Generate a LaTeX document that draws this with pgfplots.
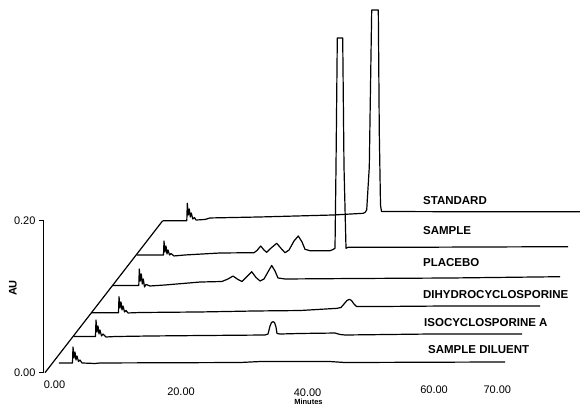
\documentclass[border=0pt]{standalone}
\usepackage{pgfplots}
\pgfplotsset{compat=1.18}
\usepackage{fontspec}
\setmainfont{Liberation Sans}
\begin{document}
\begin{tikzpicture}
\begin{axis}[
  scale only axis, width=536pt, height=372.7pt,
  xmin=-1.660, xmax=83.071, ymin=0, ymax=0.4904,
  axis lines=left, axis line style={draw=none},
  clip mode=individual,
  xtick={0,20,40,60,70},
  xticklabels={\raisebox{5pt}{0.00},\raisebox{-2pt}{20.00},\raisebox{-3pt}{40.00},60.00,70.00},
  xtick style={draw=none},
  xticklabel style={anchor=base, yshift=-16pt},
  ytick={0,0.2}, yticklabels={0.00,0.20},
  tick align=outside, major tick length=5pt,
  ytick style={line width=1pt, black},
  ticklabel style={font=\fontsize{11}{13}\selectfont},
  tr/.style={black, line width=1.2pt, mark=none, solid, line join=round},
]
\coordinate (BL) at (rel axis cs:0,0);
\coordinate (TR) at (rel axis cs:1,1);
\draw[line width=1pt] (axis cs:-1.660,0) -- (axis cs:-1.660,0.2);
% perspective edge
\addplot[tr] coordinates {(-1.502,0) (17.104,0.2)};
% SAMPLE DILUENT
\addplot[tr] coordinates {(0.711,0.0128) (2.845,0.0128) (2.924,0.0338) (3.083,0.0193) (3.241,0.0272) (3.399,0.0167) (3.557,0.0220) (3.794,0.0147) (4.031,0.0167) (4.347,0.0128) (6.402,0.0121) (7.193,0.0128) (29.324,0.0134) (32.485,0.0147) (43.551,0.0147) (45.922,0.0134) (71.215,0.0141)};
% ISOCYCLOSPORINE A
\addplot[tr] coordinates {(3.083,0.0476) (6.481,0.0476) (6.560,0.0693) (6.718,0.0536) (6.876,0.0614) (7.035,0.0509) (7.193,0.0562) (7.430,0.0483) (7.667,0.0509) (8.141,0.0470) (9.564,0.0476) (15.097,0.0483) (23.001,0.0489) (33.276,0.0496) (33.750,0.0509) (34.067,0.0614) (34.304,0.0661) (34.541,0.0671) (34.778,0.0661) (35.015,0.0601) (35.173,0.0516) (35.647,0.0509) (38.809,0.0516) (44.342,0.0522) (45.132,0.0503) (45.922,0.0496) (59.359,0.0509) (73.902,0.0509)};
% DIHYDROCYCLOSPORINE
\addplot[tr] coordinates {(5.770,0.0789) (10.117,0.0789) (10.196,0.1000) (10.354,0.0851) (10.512,0.0930) (10.670,0.0825) (10.828,0.0878) (11.066,0.0799) (11.303,0.0818) (11.619,0.0786) (13.516,0.0792) (23.001,0.0799) (31.695,0.0812) (38.809,0.0818) (44.658,0.0847) (45.290,0.0858) (45.764,0.0904) (46.239,0.0950) (46.602,0.0966) (46.950,0.0950) (47.346,0.0904) (47.741,0.0871) (51.455,0.0871) (62.521,0.0878) (76.748,0.0878)};
% PLACEBO
\addplot[tr] coordinates {(9.248,0.1147) (13.326,0.1147) (13.405,0.1364) (13.563,0.1207) (13.721,0.1299) (13.879,0.1167) (14.037,0.1233) (14.227,0.1128) (14.464,0.1161) (15.097,0.1141) (17.468,0.1154) (23.001,0.1193) (26.478,0.1200) (27.427,0.1233) (28.217,0.1272) (29.008,0.1226) (29.640,0.1200) (30.272,0.1253) (31.173,0.1329) (31.853,0.1253) (32.485,0.1207) (33.118,0.1233) (33.829,0.1338) (34.335,0.1411) (34.857,0.1338) (35.331,0.1246) (36.438,0.1233) (46.713,0.1239) (62.521,0.1246) (79.910,0.1263)};
% SAMPLE
\addplot[tr] coordinates {(13.042,0.1549) (17.231,0.1549) (17.310,0.1733) (17.468,0.1588) (17.626,0.1667) (17.784,0.1562) (17.942,0.1614) (18.179,0.1549) (18.416,0.1568) (18.890,0.1536) (20.629,0.1549) (26.162,0.1575) (31.537,0.1579) (32.011,0.1608) (32.596,0.1667) (33.118,0.1614) (33.545,0.1584) (34.067,0.1628) (35.126,0.1703) (35.964,0.1621) (36.438,0.1579) (37.070,0.1614) (37.861,0.1733) (38.540,0.1799) (39.125,0.1720) (39.600,0.1624) (40.390,0.1605) (43.551,0.1605) (44.026,0.1621) (44.342,0.1637) (44.500,0.2711) (44.705,0.4404) (45.559,0.4404) (45.764,0.2711) (46.081,0.1637) (46.397,0.1650) (54.617,0.1650) (67.263,0.1654) (81.175,0.1658)};
% STANDARD
\addplot[tr] coordinates {(17.152,0.2000) (20.914,0.2000) (20.993,0.2229) (21.151,0.2075) (21.309,0.2154) (21.467,0.2049) (21.625,0.2101) (21.863,0.2022) (22.131,0.2042) (22.368,0.2009) (23.791,0.2016) (24.581,0.2036) (32.485,0.2049) (44.026,0.2075) (48.768,0.2097) (49.084,0.2108) (49.353,0.2141) (49.764,0.2711) (49.922,0.3588) (50.143,0.4772) (51.187,0.4772) (51.344,0.3154) (51.534,0.2207) (51.692,0.2121) (64.101,0.2118) (83.862,0.2118)};
\begin{scope}[every node/.style={anchor=west, inner sep=0pt, font=\bfseries\fontsize{11.5}{13}\selectfont}]
\node at (axis cs:58.25,0.2262) {STANDARD};
\node at (axis cs:58.25,0.1868) {SAMPLE};
\node at (axis cs:58.25,0.1443) {PLACEBO};
\node at (axis cs:58.25,0.1022) {DIHYDROCYCLOSPORINE};
\node at (axis cs:58.41,0.0654) {ISOCYCLOSPORINE A};
\node at (axis cs:59.04,0.0299) {SAMPLE DILUENT};
\end{scope}
\node[rotate=90, inner sep=0pt, font=\bfseries\fontsize{11}{13}\selectfont] at (axis cs:-6.560,0.1114) {AU};
\node[inner sep=0pt, font=\bfseries\fontsize{7.5}{9}\selectfont] at (axis cs:40.152,-0.0385) {Minutes};
\end{axis}
\pgfresetboundingbox
\path[use as bounding box] ([shift={(-44pt,-33.3pt)}]BL) rectangle (TR);
\end{tikzpicture}
\end{document}
